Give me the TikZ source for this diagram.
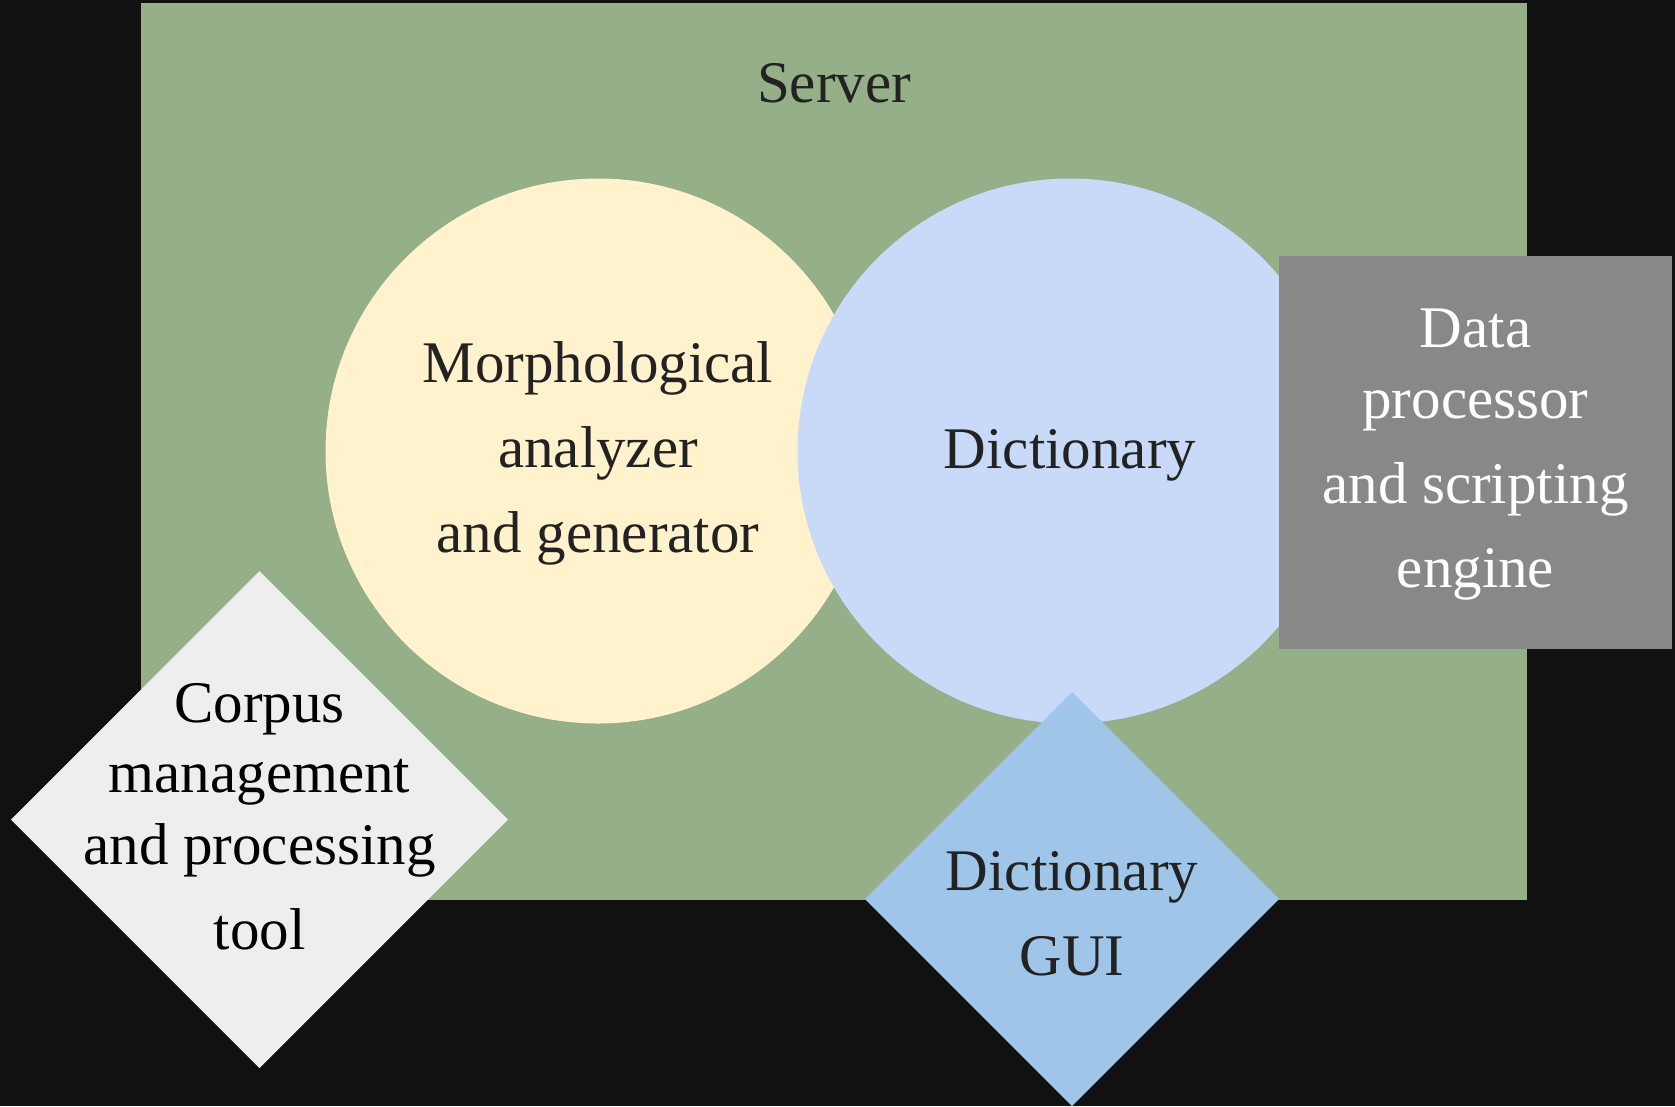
\documentclass[tikz,border=0pt]{standalone}
\usepackage{fontspec}
\setmainfont{Liberation Serif}
\usetikzlibrary{shapes.geometric}
\definecolor{bgc}{HTML}{111111}
\definecolor{serverc}{HTML}{95AF88}
\definecolor{yellowc}{HTML}{FFF2CC}
\definecolor{bluec}{HTML}{C9DAF8}
\definecolor{grayc}{HTML}{888888}
\definecolor{lightc}{HTML}{EEEEEE}
\definecolor{guic}{HTML}{9FC5E8}
\definecolor{textc}{HTML}{222222}
\tikzset{
  shp/.style={draw=none, inner sep=0pt, outer sep=0pt},
  circ/.style={shp, circle, minimum size=545pt},
  dia/.style={shp, diamond, aspect=1},
  lbl/.style={anchor=base, align=center, inner sep=0pt, text=textc,
    font=\fontsize{59}{85}\selectfont}
}
\begin{document}
\begin{tikzpicture}[x=1pt, y=-1pt]
\fill[bgc] (0,0) rectangle (1675,1106);
\useasboundingbox (0,0) rectangle (1675,1106);
\node[shp, fill=serverc, rectangle, minimum width=1386pt, minimum height=897pt, anchor=north west] (server) at (141,3) {};
\node[lbl] (serverT) at (834,102) {Server};
\node[circ, fill=yellowc] (morph) at (598,451) {};
\node[circ, fill=bluec] (dict) at (1070,451) {};
\node[shp, fill=grayc, rectangle, minimum width=393pt, minimum height=393pt, anchor=north west] (data) at (1279,256) {};
\node[dia, fill=lightc, minimum width=497pt, minimum height=497pt] (corpus) at (259.5,819.5) {};
\node[dia, fill=guic, minimum width=414pt, minimum height=414pt] (gui) at (1072,899) {};
\node[lbl] (morphT) at (598,552) {Morphological\\analyzer\\and generator};
\node[lbl] (dictT) at (1070,468) {Dictionary};
\node[lbl, text=white] (dataT) at (1475.5,587) {Data\\[-14pt]processor\\and scripting\\[-1pt]engine};
\node[lbl, text=black] (corpusT) at (259.5,949) {Corpus\\[-15pt]management\\[-13pt]and processing\\tool};
\node[lbl] (guiT) at (1072,975) {Dictionary\\GUI};
\end{tikzpicture}
\end{document}
